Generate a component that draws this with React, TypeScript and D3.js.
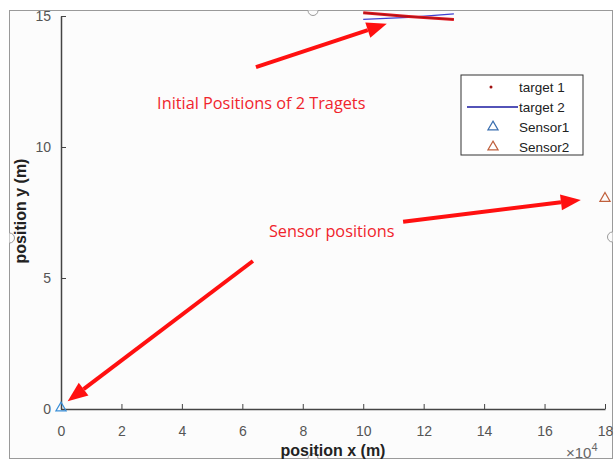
import { useEffect, useRef } from "react";
import * as d3 from "d3";

// x in metres (axis shown as x10^4), y in metres
const xTicks = [0, 20000, 40000, 60000, 80000, 100000, 120000, 140000, 160000, 180000];
const yTicks = [0, 5, 10, 15];

const target1 = [
  { x: 100000, y: 15.12 },
  { x: 115000, y: 14.98 },
  { x: 130000, y: 14.87 },
];
const target2 = [
  { x: 100000, y: 14.87 },
  { x: 115000, y: 14.95 },
  { x: 130000, y: 15.08 },
];
const sensors = [
  { name: "Sensor1", x: 0, y: 0, color: "#3a8fd8" },
  { name: "Sensor2", x: 180000, y: 8, color: "#c0603c" },
];

// annotations (data units)
const arrows = [
  { x1: 64500, y1: 13.05, x2: 107800, y2: 14.7 },
  { x1: 113200, y1: 7.15, x2: 172000, y2: 7.98 },
  { x1: 63500, y1: 5.65, x2: 2200, y2: 0.3 },
];
const notes = [
  { text: "Initial Positions of 2 Tragets", x: 31800, y: 11.45 },
  { text: "Sensor positions", x: 68800, y: 6.55 },
];

const legendItems = ["target 1", "target 2", "Sensor1", "Sensor2"];

const App = () => {
  const ref = useRef<SVGSVGElement>(null);

  useEffect(() => {
    document.body.style.margin = "0";
    const width = 616;
    const height = 463;
    const left = 61;
    const right = 605;
    const bottom = 409;
    const top = 16;

    const x = d3.scaleLinear().domain([0, 180000]).range([left, right]);
    const y = d3.scaleLinear().domain([0, 15]).range([bottom, top]);

    const svg = d3.select(ref.current).attr("width", width).attr("height", height);
    svg.selectAll("*").remove();

    svg.append("rect").attr("width", width).attr("height", height).attr("fill", "#ffffff");

    // figure frame with selection handles
    const frame = svg.append("g").attr("stroke", "#9a9a9a").attr("fill", "none").attr("stroke-width", 1);
    frame.append("rect").attr("x", 9.5).attr("y", 10.5).attr("width", 603).attr("height", 448).attr("fill", "#fcfcfc");
    const handles = [
      [313, 10.5, 0],
      [313, 458.5, 180],
      [9.5, 238, 270],
      [612.5, 237, 90],
    ];
    handles.forEach(([hx, hy, r]) => {
      frame
        .append("path")
        .attr("transform", `translate(${hx},${hy}) rotate(${r})`)
        .attr("d", "M-5,0 A5,5 0 0 0 5,0")
        .attr("fill", "#fcfcfc");
    });

    const font = "'Liberation Sans', Arial, sans-serif";

    // x axis
    svg
      .append("g")
      .attr("transform", `translate(0,${bottom})`)
      .call(
        d3
          .axisBottom(x)
          .tickValues(xTicks)
          .tickSizeInner(-5)
          .tickSizeOuter(0)
          .tickPadding(17)
          .tickFormat((d) => String(+d / 10000))
      )
      .call((g) => g.select(".domain").attr("stroke", "#444").attr("stroke-width", 1.5))
      .call((g) => g.selectAll(".tick line").attr("stroke", "#444"))
      .call((g) =>
        g.selectAll(".tick text").attr("fill", "#555").attr("font-size", 14).attr("font-family", font)
      );

    // y axis
    svg
      .append("g")
      .attr("transform", `translate(${left},0)`)
      .call(
        d3
          .axisLeft(y)
          .tickValues(yTicks)
          .tickSizeInner(-5)
          .tickSizeOuter(0)
          .tickPadding(10)
      )
      .call((g) => g.select(".domain").attr("stroke", "#444").attr("stroke-width", 1.5))
      .call((g) => g.selectAll(".tick line").attr("stroke", "#444"))
      .call((g) =>
        g.selectAll(".tick text").attr("fill", "#555").attr("font-size", 14).attr("font-family", font)
      );

    svg
      .append("text")
      .attr("x", 333)
      .attr("y", 456)
      .attr("text-anchor", "middle")
      .attr("font-family", font)
      .attr("font-weight", "bold")
      .attr("font-size", 16)
      .attr("fill", "#222")
      .text("position x (m)");

    svg
      .append("text")
      .attr("transform", `translate(26,211) rotate(-90)`)
      .attr("text-anchor", "middle")
      .attr("font-family", font)
      .attr("font-weight", "bold")
      .attr("font-size", 16)
      .attr("fill", "#222")
      .text("position y (m)");

    const exp = svg
      .append("text")
      .attr("x", 566)
      .attr("y", 458)
      .attr("font-family", font)
      .attr("font-size", 15)
      .attr("fill", "#666");
    exp.append("tspan").text("×10");
    exp.append("tspan").attr("dy", -7).attr("font-size", 11).text("4");

    // targets
    const line = d3
      .line<{ x: number; y: number }>()
      .x((d) => x(d.x))
      .y((d) => y(d.y));
    svg.append("path").attr("d", line(target2)).attr("fill", "none").attr("stroke", "#3f3fd0").attr("stroke-width", 1.2);
    svg.append("path").attr("d", line(target1)).attr("fill", "none").attr("stroke", "#e0161e").attr("stroke-width", 3);
    svg.append("path").attr("d", line(target1)).attr("fill", "none").attr("stroke", "#7a1010").attr("stroke-width", 1).attr("opacity", 0.6);

    // sensors
    const tri = d3.symbol().type(d3.symbolTriangle).size(45);
    sensors.forEach((s) => {
      svg
        .append("path")
        .attr("transform", `translate(${x(s.x)},${y(s.y) - 1})`)
        .attr("d", tri())
        .attr("fill", "none")
        .attr("stroke", s.color)
        .attr("stroke-width", 1.2);
    });

    // arrows
    const red = "#ff1010";
    arrows.forEach((a) => {
      const x1 = x(a.x1), y1 = y(a.y1), x2 = x(a.x2), y2 = y(a.y2);
      const ang = Math.atan2(y2 - y1, x2 - x1);
      const hl = 20, hw = 8;
      const bx = x2 - hl * Math.cos(ang), by = y2 - hl * Math.sin(ang);
      svg
        .append("line")
        .attr("x1", x1).attr("y1", y1).attr("x2", bx).attr("y2", by)
        .attr("stroke", red).attr("stroke-width", 4);
      const px = -Math.sin(ang) * hw, py = Math.cos(ang) * hw;
      svg
        .append("path")
        .attr("d", `M${x2},${y2}L${bx + px},${by + py}L${bx - px},${by - py}Z`)
        .attr("fill", red);
    });

    notes.forEach((n) => {
      svg
        .append("text")
        .attr("x", x(n.x))
        .attr("y", y(n.y))
        .attr("font-family", "'Open Sans', 'Noto Sans', sans-serif")
        .attr("font-size", 16.3)
        .attr("fill", "#f0242c")
        .text(n.text);
    });

    // legend
    const lg = svg.append("g").attr("transform", "translate(461,75)");
    lg.append("rect").attr("width", 122).attr("height", 80).attr("fill", "#fff").attr("stroke", "#333").attr("stroke-width", 1);
    legendItems.forEach((name, i) => {
      const ly = 12 + i * 20;
      const row = lg.append("g").attr("transform", `translate(0,${ly})`);
      if (i === 0) row.append("circle").attr("cx", 30).attr("cy", 0).attr("r", 1.5).attr("fill", "#a01010");
      if (i === 1) row.append("line").attr("x1", 6).attr("x2", 57).attr("stroke", "#1a1aa0").attr("stroke-width", 1.5);
      if (i >= 2)
        row
          .append("path")
          .attr("transform", "translate(32,0)")
          .attr("d", tri())
          .attr("fill", "none")
          .attr("stroke", i === 2 ? "#3a6fb0" : "#c0603c")
          .attr("stroke-width", 1.2);
      row
        .append("text")
        .attr("x", 58)
        .attr("dy", "0.35em")
        .attr("font-family", font)
        .attr("font-size", 13.5)
        .attr("fill", "#222")
        .text(name);
    });
  }, []);

  return <svg ref={ref}></svg>;
};

export default App;
